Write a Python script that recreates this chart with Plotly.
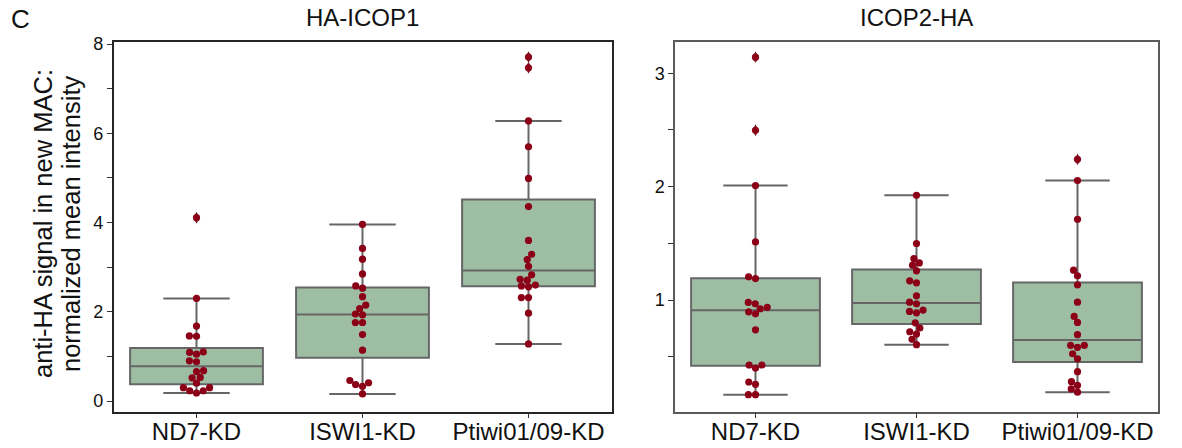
import numpy as np
import plotly.graph_objects as go

# ---- data -------------------------------------------------------------
categories = ["ND7-KD", "ISWI1-KD", "Ptiwi01/09-KD"]

icop1_nd7 = [0.18, 0.23, 0.23, 0.30, 0.30, 0.40, 0.52, 0.53, 0.66, 0.68,
             0.88, 0.90, 1.05, 1.09, 1.10, 1.45, 1.46, 1.68, 2.30, 4.11]
icop1_iswi1 = [0.16, 0.33, 0.37, 0.41, 0.46, 1.14, 1.49, 1.76, 1.76, 1.93,
               1.95, 2.07, 2.15, 2.34, 2.53, 2.58, 2.85, 3.18, 3.42, 3.96]
icop1_ptiwi = [1.28, 1.97, 2.32, 2.32, 2.56, 2.58, 2.60, 2.71, 2.73, 2.83,
               3.02, 3.17, 3.29, 3.60, 4.36, 4.99, 5.70, 6.28, 7.47, 7.71]

icop2_nd7 = [0.166, 0.166, 0.258, 0.278, 0.401, 0.428, 0.428, 0.738, 0.879, 0.897,
             0.924, 0.936, 0.967, 0.980, 1.190, 1.205, 1.513, 2.010, 2.497, 3.142]
icop2_iswi1 = [0.607, 0.654, 0.701, 0.721, 0.754, 0.800, 0.888, 0.900, 0.912, 0.968,
               0.982, 1.038, 1.152, 1.170, 1.258, 1.308, 1.328, 1.367, 1.499, 1.924]
icop2_ptiwi = [0.188, 0.217, 0.249, 0.281, 0.369, 0.483, 0.527, 0.584, 0.601, 0.601,
               0.695, 0.803, 0.856, 0.982, 1.135, 1.214, 1.264, 1.713, 2.054, 2.241]

panels = [
    {"title": "HA-ICOP1", "groups": [icop1_nd7, icop1_iswi1, icop1_ptiwi],
     "yrange": [-0.235, 8.06], "tickvals": [0, 1, 2, 3, 4, 5, 6, 7, 8],
     "ticktext": ["0", "", "2", "", "4", "", "6", "", "8"],
     "frame": "#262626"},
    {"title": "ICOP2-HA", "groups": [icop2_nd7, icop2_iswi1, icop2_ptiwi],
     "yrange": [0.018, 3.28], "tickvals": [0.5, 1, 1.5, 2, 2.5, 3],
     "ticktext": ["", "1", "", "2", "", "3"],
     "frame": "#5a5a5a"},
]

# ---- layout geometry (pixels) ----------------------------------------
W, H = 1182, 448
plot_top, plot_bottom = 41.5, 411.5
x_domains_px = [(113.5, 611.5), (675.0, 1158.0)]

BOX_FILL = "#9ebea4"
BOX_LINE = "#666666"
DOT = "#8b0016"
FONT = "Liberation Sans, Arial, sans-serif"
DOT_R = 3.4  # swarm point radius in px


def swarm_offsets(values, px_per_unit, radius):
    """Beeswarm layout: horizontal pixel offsets so points do not overlap."""
    v = np.asarray(values, float)
    order = np.argsort(v, kind="stable")
    ys = v[order] * px_per_unit
    placed = []
    for y in ys:
        neighbors = [(xj, yj) for xj, yj in placed if y - yj < 2 * radius]
        cands = [0.0]
        left_first = True
        for xj, yj in neighbors:
            dy = y - yj
            dx = np.sqrt(max(4 * radius ** 2 - dy ** 2, 0)) * 1.05
            cands.extend([xj - dx, xj + dx] if left_first else [xj + dx, xj - dx])
            left_first = not left_first
        cands.sort(key=abs)
        chosen = cands[0]
        for c in cands:
            if all((xj - c) ** 2 + (yj - y) ** 2 >= 4 * radius ** 2 - 1e-9
                   for xj, yj in neighbors):
                chosen = c
                break
        placed.append((chosen, y))
    out = np.empty(len(v))
    out[order] = [p[0] for p in placed]
    return out


fig = go.Figure()
annotations = []

for k, panel in enumerate(panels):
    xa = "x" if k == 0 else "x2"
    ya = "y" if k == 0 else "y2"
    x0, x1 = x_domains_px[k]
    px_x = (x1 - x0) / 3.0
    y_lo, y_hi = panel["yrange"]
    px_y = (plot_bottom - plot_top) / (y_hi - y_lo)

    for i, vals in enumerate(panel["groups"]):
        v = np.asarray(vals, float)
        q1, med, q3 = np.percentile(v, [25, 50, 75])
        iqr = q3 - q1
        lo = v[v >= q1 - 1.5 * iqr].min()
        hi = v[v <= q3 + 1.5 * iqr].max()
        outliers = v[(v < lo) | (v > hi)]

        fig.add_trace(go.Box(
            x=[i], q1=[q1], median=[med], q3=[q3],
            lowerfence=[lo], upperfence=[hi],
            width=0.8, whiskerwidth=0.5, boxpoints=False,
            fillcolor=BOX_FILL, line=dict(color=BOX_LINE, width=2),
            xaxis=xa, yaxis=ya, showlegend=False, hoverinfo="skip"))

        if len(outliers):
            fig.add_trace(go.Scatter(
                x=[i] * len(outliers), y=outliers, mode="markers",
                marker=dict(symbol="diamond-tall", size=8.5, color="#6a1a22"),
                xaxis=xa, yaxis=ya, showlegend=False, hoverinfo="skip",
                cliponaxis=False))

        offs = swarm_offsets(v, px_y, DOT_R)
        fig.add_trace(go.Scatter(
            x=i + offs / px_x, y=v, mode="markers",
            marker=dict(size=2 * DOT_R + 0.4, color=DOT, line=dict(width=0)),
            xaxis=xa, yaxis=ya, showlegend=False, cliponaxis=False))

    dom = [x0 / W, x1 / W]
    axis_common = dict(showline=True, mirror=True, linecolor=panel["frame"],
                       linewidth=1.5, ticks="outside", ticklen=5,
                       tickcolor="#333333", tickwidth=1, showgrid=False,
                       zeroline=False, automargin=False)
    xkey = "xaxis" if k == 0 else "xaxis2"
    ykey = "yaxis" if k == 0 else "yaxis2"
    fig.layout[xkey] = dict(
        domain=dom, range=[-0.5, 2.5], tickvals=[0, 1, 2], ticktext=categories,
        tickfont=dict(size=24, color="#111111", family=FONT),
        ticklabelstandoff=-7, anchor=ya, **axis_common)
    fig.layout[ykey] = dict(
        domain=[(H - plot_bottom) / H, (H - plot_top) / H], range=panel["yrange"],
        tickvals=panel["tickvals"], ticktext=panel["ticktext"],
        tickfont=dict(size=18, color="#111111", family=FONT),
        anchor=xa, **axis_common)

    annotations.append(dict(
        text=panel["title"], x=(x0 + x1) / 2 / W, y=1 - 18 / H,
        xref="paper", yref="paper", xanchor="center", yanchor="middle",
        showarrow=False, font=dict(size=24, color="#111111", family=FONT)))

# panel letter and shared y-axis title
annotations.append(dict(text="C", x=20 / W, y=1 - 19.5 / H, xref="paper", yref="paper",
                        xanchor="center", yanchor="middle", showarrow=False,
                        font=dict(size=26, color="#111111", family=FONT)))
for txt, cx in [("anti-HA signal in new MAC:", 43), ("normalized mean intensity", 71)]:
    annotations.append(dict(text=txt, x=cx / W, y=1 - 224 / H, xref="paper",
                            yref="paper", xanchor="center", yanchor="middle",
                            textangle=-90, showarrow=False,
                            font=dict(size=25.5, color="#111111", family=FONT)))

fig.update_layout(
    template="none",
    width=W, height=H, margin=dict(l=0, r=0, t=0, b=0, pad=0),
    paper_bgcolor="white", plot_bgcolor="white",
    annotations=annotations, showlegend=False)

fig.write_html("out.html")
